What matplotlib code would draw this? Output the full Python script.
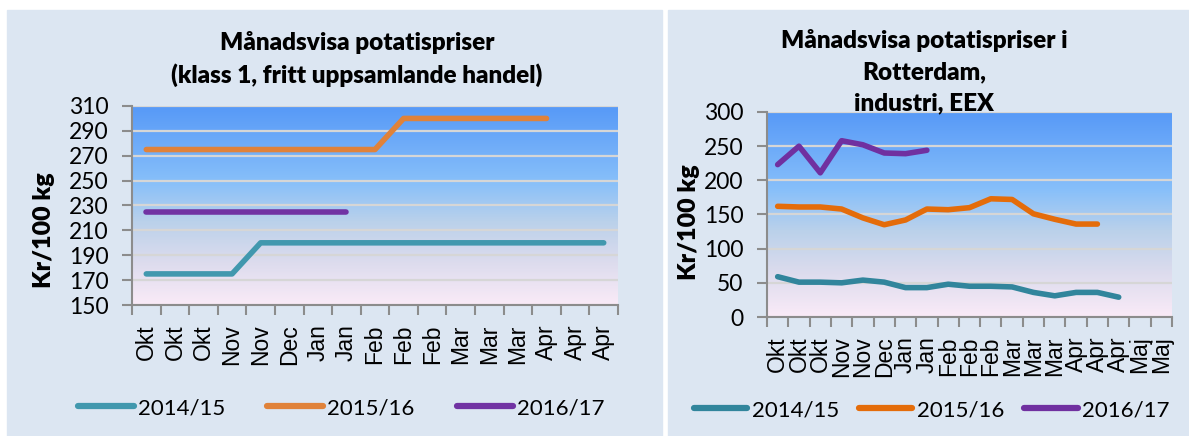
import numpy as np
import matplotlib as mpl
mpl.use('Agg')
import matplotlib.pyplot as plt
from matplotlib.colors import LinearSegmentedColormap
from matplotlib.patches import Rectangle

# ---- data ----
months_left = ["Okt", "Okt", "Okt", "Nov", "Nov", "Dec", "Jan", "Jan", "Feb",
               "Feb", "Feb", "Mar", "Mar", "Mar", "Apr", "Apr", "Apr"]
left_1415 = [175, 175, 175, 175, 200, 200, 200, 200, 200, 200, 200, 200, 200,
             200, 200, 200, 200]
left_1516 = [275, 275, 275, 275, 275, 275, 275, 275, 275, 300, 300, 300, 300,
             300, 300]
left_1617 = [225, 225, 225, 225, 225, 225, 225, 225]
left_yticks = [150, 170, 190, 210, 230, 250, 270, 290, 310]

months_right = months_left + ["Maj", "Maj"]
right_1415 = [59, 51, 51, 50, 54, 51, 43, 43, 48, 45, 45, 44, 36, 31, 36, 36, 29]
right_1516 = [162, 161, 161, 158, 145, 135, 142, 158, 157, 160, 173, 172, 151,
              143, 136, 136]
right_1617 = [223, 250, 211, 258, 252, 240, 239, 244]
right_yticks = [0, 50, 100, 150, 200, 250, 300]

seasons = ["2014/15", "2015/16", "2016/17"]

W, H = 1189, 436
PANEL = '#DCE6F2'

grad = LinearSegmentedColormap.from_list('bg', [
    (0.00, (0.98, 0.92, 0.97)),
    (0.22, (0.86, 0.86, 0.93)),
    (0.42, (0.73, 0.82, 0.92)),
    (0.62, (0.53, 0.75, 0.98)),
    (1.00, (0.34, 0.60, 0.97)),
])


def px(x0, y0, x1, y1):
    # pixel box (top-left origin) -> figure fraction rect
    return [x0 / W, 1 - y1 / H, (x1 - x0) / W, (y1 - y0) / H]


def draw_panel(ax, months, series, colors, yticks, lw):
    n = len(months)
    ymin, ymax = yticks[0], yticks[-1]
    g = np.linspace(0, 1, 256).reshape(-1, 1)
    ax.imshow(g, cmap=grad, origin='lower', aspect='auto',
              extent=[-0.5, n - 0.5, ymin, ymax], zorder=0)
    for vals, c in zip(series, colors):
        ax.plot(np.arange(len(vals)), vals, color=c, lw=lw,
                solid_capstyle='round', solid_joinstyle='round', zorder=3)
    ax.set_xlim(-0.5, n - 0.5)
    ax.set_ylim(ymin, ymax)
    ax.set_yticks(yticks)
    ax.set_xticks(np.arange(n))
    ax.set_xticklabels(months, rotation=90, family='Liberation Sans',
                       fontsize=16.5)
    ax.set_xticks(np.arange(n + 1) - 0.5, minor=True)
    ax.tick_params(axis='x', which='major', length=0, pad=14)
    ax.tick_params(axis='x', which='minor', length=7, width=1.5,
                   color='#8C8C8C')
    ax.tick_params(axis='y', length=7, width=1.5, color='#8C8C8C', pad=10,
                   labelsize=16.5)
    for t in ax.get_yticklabels():
        t.set_family('Lato')
    ax.grid(axis='y', color='#D6D6D6', lw=1.6)
    for s in ['top', 'right']:
        ax.spines[s].set_visible(False)
    for s in ['left', 'bottom']:
        ax.spines[s].set_color('#8C8C8C')
        ax.spines[s].set_linewidth(1.5)
        ax.spines[s].set_zorder(4)
    ax.set_ylabel("Kr/100 kg", family='Lato', fontweight='heavy', fontsize=18)


fig = plt.figure(figsize=(W / 100, H / 100), dpi=100)
fig.patch.set_facecolor('white')
fig.add_artist(Rectangle((7 / W, 0), (662 - 7) / W, (H - 10) / H,
                         transform=fig.transFigure, color=PANEL, zorder=-10))
fig.add_artist(Rectangle((668 / W, 0), (W - 668) / W, (H - 10) / H,
                         transform=fig.transFigure, color=PANEL, zorder=-10))

axL = fig.add_axes(px(132, 106, 618, 305))
colsL = ['#4198AE', '#E0823A', '#7133A3']
draw_panel(axL, months_left, [left_1415, left_1516, left_1617], colsL,
           left_yticks, 4.0)
axL.yaxis.set_label_coords(55 / W, 206 / H, transform=fig.transFigure)

axR = fig.add_axes(px(767, 112, 1172, 317))
colsR = ['#31859C', '#E46C0A', '#7030A0']
draw_panel(axR, months_right, [right_1415, right_1516, right_1617], colsR,
           right_yticks, 4.0)
axR.yaxis.set_label_coords(700 / W, 214 / H, transform=fig.transFigure)

tkw = dict(ha='center', va='center', family='Lato', fontweight='heavy',
           fontsize=17.5)
fig.text(357 / W, 1 - 42 / H, "Månadsvisa potatispriser", **tkw)
fig.text(357 / W, 1 - 75 / H, "(klass 1, fritt uppsamlande handel)", **tkw)
fig.text(924 / W, 1 - 40 / H, "Månadsvisa potatispriser i", **tkw)
fig.text(924 / W, 1 - 72 / H, "Rotterdam,", **tkw)
fig.text(924 / W, 1 - 103 / H, "industri, EEX", **tkw)

legL = fig.legend(axL.get_lines(), seasons, loc='center left',
                  bbox_to_anchor=(78 / W, 1 - 408 / H), ncol=3, frameon=False,
                  borderpad=0, borderaxespad=0, handlelength=2.5,
                  handletextpad=0.2, columnspacing=1.9,
                  prop={'family': 'Lato', 'size': 16})
legR = fig.legend(axR.get_lines(), seasons, loc='center left',
                  bbox_to_anchor=(694 / W, 1 - 410 / H), ncol=3, frameon=False,
                  borderpad=0, borderaxespad=0, handlelength=2.4,
                  handletextpad=0.2, columnspacing=0.9,
                  prop={'family': 'Lato', 'size': 16})
for leg in (legL, legR):
    for h in leg.get_lines():
        h.set_linewidth(4.5)

fig.savefig('out.png', dpi=100, facecolor='white')
